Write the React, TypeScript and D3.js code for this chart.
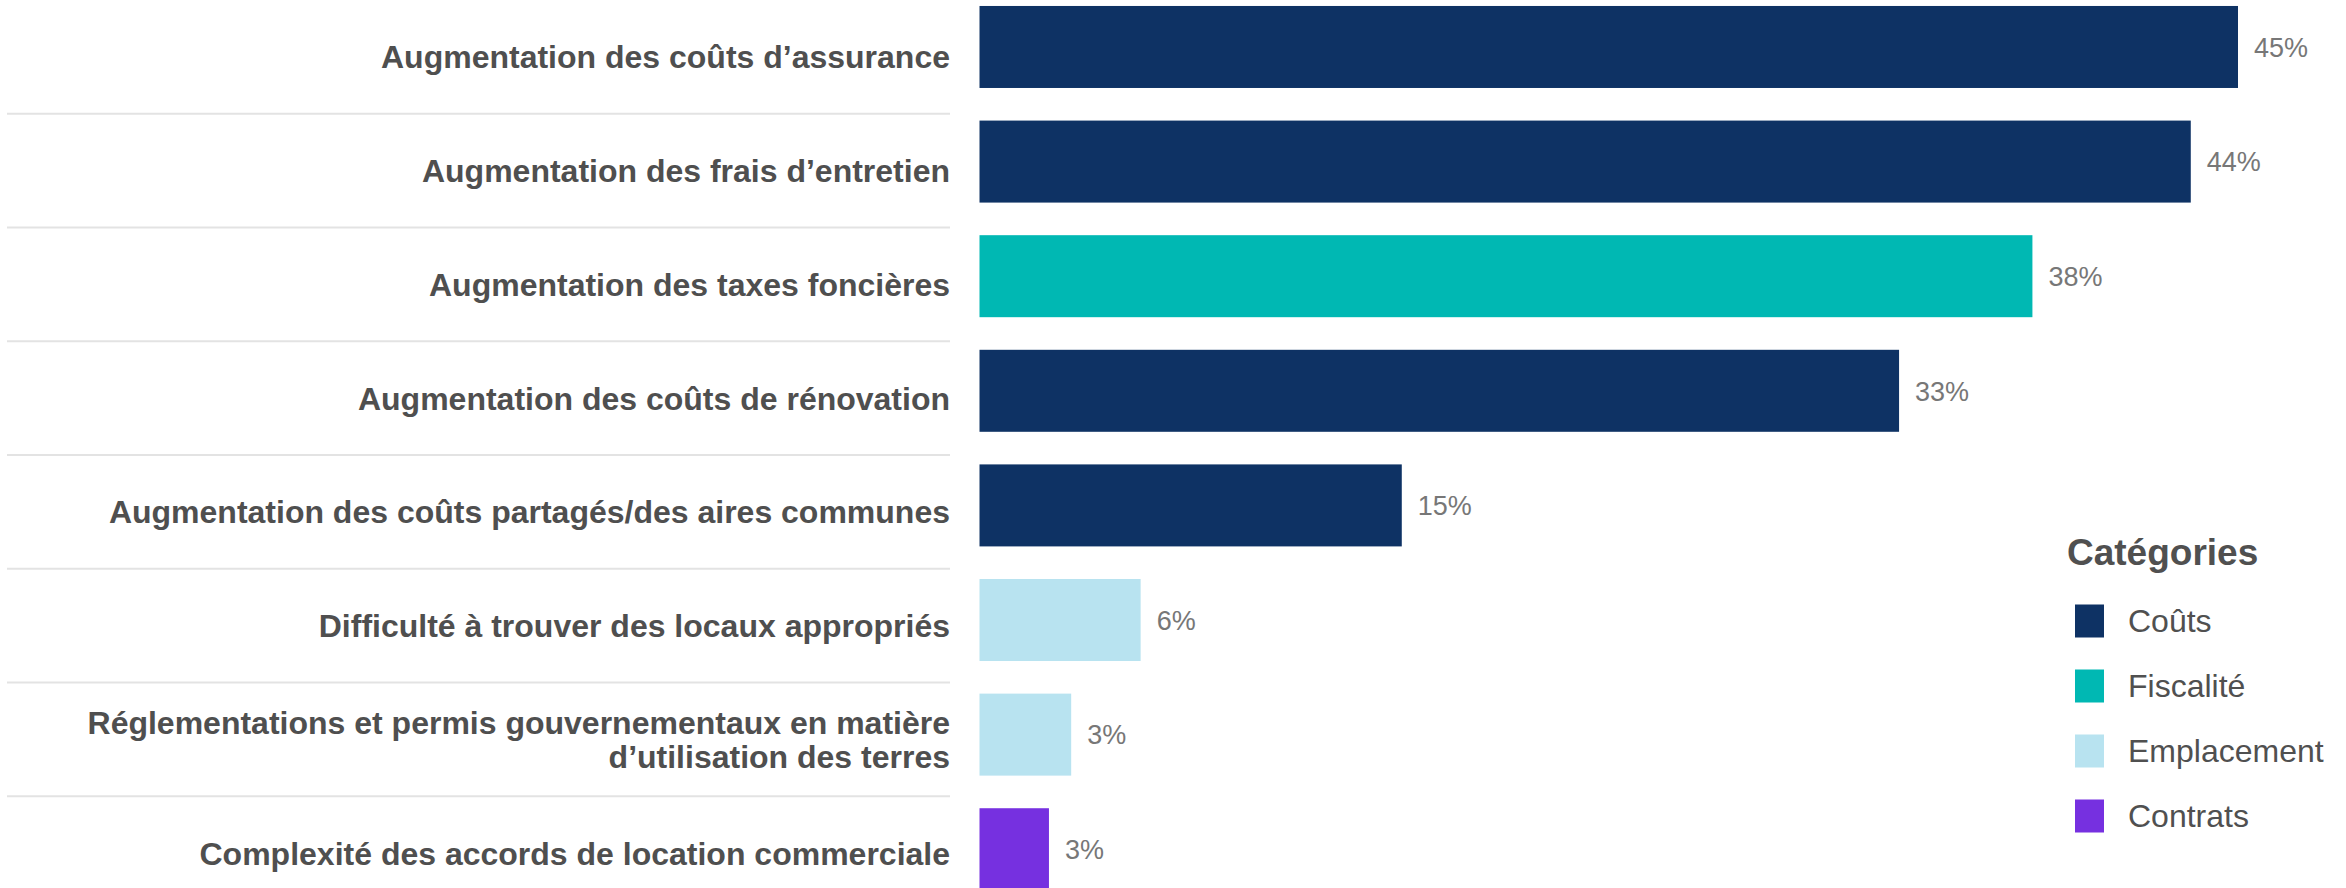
import * as d3 from 'd3';

const WIDTH = 2346;
const HEIGHT = 888;

// data (bar lengths are unrounded, labels are rounded)
const categories = [
    'Augmentation des coûts d’assurance',
    'Augmentation des frais d’entretien',
    'Augmentation des taxes foncières',
    'Augmentation des coûts de rénovation',
    'Augmentation des coûts partagés/des aires communes',
    'Difficulté à trouver des locaux appropriés',
    'Réglementations et permis gouvernementaux en matière\nd’utilisation des terres',
    'Complexité des accords de location commerciale',
];
const values = [45.3, 43.6, 37.9, 33.1, 15.2, 5.8, 3.3, 2.5];
const groups = ['Coûts', 'Coûts', 'Fiscalité', 'Coûts', 'Coûts', 'Emplacement', 'Emplacement', 'Contrats'];

const legendKeys = ['Coûts', 'Fiscalité', 'Emplacement', 'Contrats'];
const legendColors = ['#0E3264', '#00B8B3', '#B8E3F0', '#7630E0'];

const FONT = '"Liberation Sans", Arial, sans-serif';

export default function App() {
    const color = d3.scaleOrdinal<string, string>().domain(legendKeys).range(legendColors);

    // bars
    const xScale = d3
        .scaleLinear()
        .domain([0, d3.max(values) ?? 1])
        .range([979.5, 2238]);

    const yScale = d3
        .scaleBand()
        .domain(categories)
        .range([-10.3, 906.5])
        .paddingInner(0.2845)
        .paddingOuter(0.142);

    // the label column sits on its own, slightly tighter grid
    const labelScale = d3.scaleBand().domain(categories).range([0, 910]);

    const separators = categories.slice(1).map((c, i) => {
        const y = labelScale(c) ?? 0;
        return <line key={i} x1={7} x2={950} y1={y} y2={y} stroke="#e3e3e3" strokeWidth={2} />;
    });

    const labels = categories.map((c, i) => {
        const cy = (labelScale(c) ?? 0) + labelScale.bandwidth() / 2;
        const lines = c.split('\n');
        const lineH = 33.5;
        return (
            <text
                key={i}
                x={950}
                textAnchor="end"
                fontSize={32}
                fontWeight="bold"
                fill="#4f4f4f"
                fontFamily={FONT}
            >
                {lines.map((l, j) => (
                    <tspan key={j} x={950} y={cy + (j - (lines.length - 1) / 2) * lineH} dy="0.36em">
                        {l}
                    </tspan>
                ))}
            </text>
        );
    });

    const bars = categories.map((c, i) => {
        const y = yScale(c) ?? 0;
        const x0 = xScale(0);
        const x1 = xScale(values[i]);
        return (
            <g key={i}>
                <rect x={x0} y={y} width={x1 - x0} height={yScale.bandwidth()} fill={color(groups[i])} />
                <text
                    x={x1 + 16}
                    y={y + yScale.bandwidth() / 2}
                    dy="0.36em"
                    fontSize={27}
                    fill="#777777"
                    fontFamily={FONT}
                >
                    {Math.round(values[i])}%
                </text>
            </g>
        );
    });

    const legend = (
        <g>
            <text x={2067} y={565} fontSize={37} fontWeight="bold" fill="#505050" fontFamily={FONT}>
                Catégories
            </text>
            {legendKeys.map((k, i) => {
                const y = 604.5 + i * 65;
                return (
                    <g key={k}>
                        <rect x={2075} y={y} width={29} height={33} fill={color(k)} />
                        <text x={2128} y={y + 16.5} dy="0.35em" fontSize={32} fill="#505050" fontFamily={FONT}>
                            {k}
                        </text>
                    </g>
                );
            })}
        </g>
    );

    return (
        <svg
            width={WIDTH}
            height={HEIGHT}
            style={{ position: 'absolute', left: 0, top: 0, background: '#ffffff' }}
        >
            {separators}
            {labels}
            {bars}
            {legend}
        </svg>
    );
}
